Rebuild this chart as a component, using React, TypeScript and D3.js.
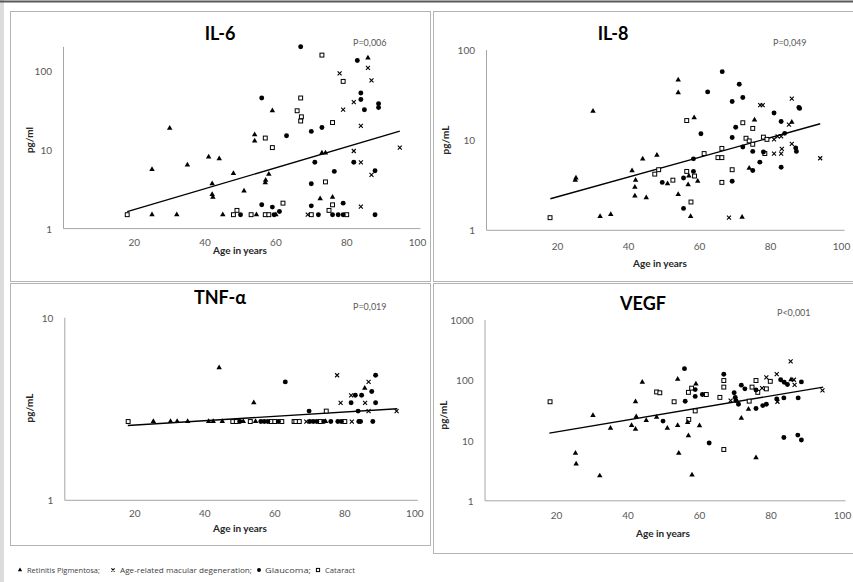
import React from 'react';
import * as d3 from 'd3';

type Pt = [number, number];

// ---------- IL-6 (age, pg/ml) ----------
const il6RP: Pt[] = [[25,5.6],[25,1.5],[30,18.7],[32,1.5],[35,6.4],[41,8.1],[44,7.7],[42,3.7],[42,2.7],[42.2,2.5],[45,1.5],[48,5.0],[51,3.0],[54,15.4],[54,12.9],[54.5,1.5],[58,4.9],[57,3.8],[57.1,4.1],[59,31],[60,1.5],[72.5,2.4],[76,2.5],[73,9.1],[74,9.1],[86,145]];
const il6AMD: Pt[] = [[78,92],[86,108],[87,75],[82,40],[79,32],[84,20],[95,10.6],[82,9.6],[84,6.9],[87,4.8],[84,1.9],[69,1.5]];
const il6GL: Pt[] = [[67,200],[83,134],[56,45],[84,52],[84,43],[85,32],[89,38],[89,34],[63,15],[70,17],[73,19],[71,6.9],[70,3.7],[76.5,5.3],[82,6.9],[88,5.4],[56,2.0],[59,1.87],[61,1.65],[70,1.94],[79,2.1],[50,1.5],[72,1.5],[76,1.5],[77.6,1.5],[79,1.5],[88,1.5],[59.5,1.5]];
const il6CAT: Pt[] = [[18,1.5],[73,157],[79,73],[67,45],[66,31],[67.2,26],[67,23],[76,22],[57,14],[59,10.6],[74,3.9],[62,2.1],[76,2.0],[49,1.7],[75,1.7],[48,1.5],[53,1.5],[57,1.5],[58,1.5],[70,1.5],[80,1.5]];
const il6Trend: Pt[] = [[18,1.64],[95,17.1]];

// ---------- IL-8 ----------
const il8RP: Pt[] = [[25,3.6],[25.2,3.8],[30,21],[32,1.43],[35,1.5],[41,4.6],[44,6.2],[42,3.6],[41.8,3.0],[41.8,2.4],[45,2.3],[48,6.8],[51,3.3],[54,46.5],[54,33.7],[54,2.5],[57,4.0],[56.8,3.2],[58.5,17.8],[57.5,1.43],[59.5,3.5],[75.5,16.8],[74,4.9],[72,1.4],[86,15.8]];
const il8AMD: Pt[] = [[68.3,1.38],[77.1,24.4],[77.8,24.4],[86,28.9],[85.2,14.9],[81,10.2],[82,11],[83,11],[86,9.1],[81,7.1],[83,7.1],[83.2,8.0],[94,6.3]];
const il8GL: Pt[] = [[66.4,57.5],[71.2,41.7],[69.2,26.8],[72.2,29.7],[62.3,34.3],[81,20],[83,16.1],[88,23],[88.2,22.5],[70.2,13.9],[60.4,11.8],[69.2,10.7],[84,11.9],[72.2,8.4],[87.1,8.2],[87.3,7.5],[75,7.5],[78,7.4],[77,5.7],[75,4.6],[83,5.0],[58.3,6.2],[58.3,4.5],[55.5,3.8],[49.5,3.4],[55.5,1.75],[69.2,3.5]];
const il8CAT: Pt[] = [[17.9,1.38],[47.4,4.2],[48.5,4.7],[52.5,3.6],[56.4,4.5],[58.6,4.0],[57.6,2.06],[56.4,16.5],[61.3,7.1],[65.2,6.4],[66.3,6.4],[66.3,8.1],[66.3,3.4],[69.2,4.7],[72.2,15.6],[75,13.5],[73.1,10.5],[74,9.8],[75,9.0],[78,10.8],[78.4,7.1],[79,10.2]];
const il8Trend: Pt[] = [[18,2.24],[94,15.2]];

// ---------- TNF-α ----------
const tnfRP: Pt[] = [[25.3,2.7],[30.2,2.7],[32.1,2.7],[35.1,2.7],[41.1,2.7],[42.4,2.7],[45,2.7],[51,2.7],[54.5,2.7],[74.5,2.7],[44.1,5.33],[54,3.42],[85.7,4.11]];
const tnfAMD: Pt[] = [[69,2.7],[82,2.7],[86.8,3.08],[94.8,3.08],[78.8,3.42],[85.8,3.42],[81.8,3.76],[86.8,4.45],[77.8,4.84]];
const tnfGL: Pt[] = [[50,2.7],[56,2.7],[57,2.7],[58,2.7],[61,2.7],[70,2.7],[71,2.7],[72,2.7],[74,2.7],[76,2.7],[78,2.7],[79,2.7],[84,2.7],[84.5,2.7],[88,2.7],[69.8,3.08],[83.8,3.08],[81.8,3.42],[88.8,3.42],[83,3.76],[84.8,3.76],[87.7,3.94],[63,4.45],[88.8,4.84]];
const tnfCAT: Pt[] = [[18.1,2.7],[48,2.7],[49,2.7],[53,2.7],[59,2.7],[60,2.7],[62,2.7],[65.5,2.7],[66,2.7],[67,2.7],[73,2.7],[80,2.7],[74.7,3.08]];
const tnfTrend: Pt[] = [[18,2.57],[95,3.17]];

// ---------- VEGF ----------
const vegfRP: Pt[] = [[25.3,6.2],[25.5,4.1],[30.2,26],[32.1,2.6],[35.1,16.1],[41,17.8],[42.1,15.5],[42.1,44],[42.3,25],[44,93],[45.1,21.6],[48,24.5],[51,16.1],[53.9,104],[53.9,17.8],[54.2,6.2],[56.7,20],[56.9,12.1],[57.9,2.7],[59,87],[60,17.7],[71.7,23.5],[73.7,33],[75.8,5.2],[85.6,102]];
const vegfAMD: Pt[] = [[85.5,206],[68.7,46],[81.6,126],[78.7,112],[77.5,74],[81.8,44],[86.4,102],[86.6,84],[94.4,68]];
const vegfGL: Pt[] = [[55.8,156],[66.8,126],[58.8,70],[58.8,54],[56,45],[60.8,58],[49.8,21],[62.7,9.1],[69.7,62],[70,52],[70.2,46],[70.9,40],[71.7,83],[72.7,72],[75.8,69],[75.8,34],[77.7,38],[78.7,40],[81.6,49],[82.7,102],[83.7,93],[84.6,85],[83.6,51],[88.5,94],[87.6,51],[83.6,11.2],[87.5,12.3],[88.5,10.2]];
const vegfCAT: Pt[] = [[18.2,44],[48,64],[48.9,62],[52.9,44],[56.9,63],[57.8,74],[61.9,58],[65.7,52],[66.8,99],[66.8,77],[58.8,31],[57,22.4],[66.8,7.1],[74.7,77],[75.8,99],[76.3,63],[78.7,72],[79.8,96],[73.9,45]];
const vegfTrend: Pt[] = [[18,13.3],[94.6,77]];

const xTicks = [20, 40, 60, 80, 100];
const legendLabels = ['Retinitis Pigmentosa;', 'Age-related macular degeneration;', 'Glaucoma;', 'Cataract'];

const FONT = "Lato, 'Open Sans', 'DejaVu Sans', sans-serif";
const LEGEND_FONT = "'Open Sans', 'DejaVu Sans', sans-serif";

interface PanelDef {
  title: string; pText: string; yLabel: string;
  rp: Pt[]; amd: Pt[]; gl: Pt[]; cat: Pt[]; trend: Pt[];
  yMax: number; yTicks: number[];
  xr: [number, number]; yr: [number, number];
  titlePos: [number, number]; pPos: [number, number];
  yLabPos: [number, number]; xLabPos: [number, number]; xTickDy: number;
}

const panels: PanelDef[] = [
  { title: 'IL-6', pText: 'P=0,006', yLabel: 'pg/ml', rp: il6RP, amd: il6AMD, gl: il6GL, cat: il6CAT, trend: il6Trend,
    yMax: 200, yTicks: [1, 10, 100], xr: [63.5, 417.5], yr: [228.6, 46.8],
    titlePos: [220, 33], pPos: [353, 42], yLabPos: [29, 140], xLabPos: [240, 250], xTickDy: 13.4 },
  { title: 'IL-8', pText: 'P=0,049', yLabel: 'pg/mL', rp: il8RP, amd: il8AMD, gl: il8GL, cat: il8CAT, trend: il8Trend,
    yMax: 100, yTicks: [1, 10, 100], xr: [486.5, 841.5], yr: [230.3, 50],
    titlePos: [613, 33], pPos: [773, 42], yLabPos: [445, 140], xLabPos: [660, 263], xTickDy: 16 },
  { title: 'TNF-α', pText: 'P=0,019', yLabel: 'pg/mL', rp: tnfRP, amd: tnfAMD, gl: tnfGL, cat: tnfCAT, trend: tnfTrend,
    yMax: 10, yTicks: [1, 10], xr: [64.8, 414.8], yr: [500.3, 317.7],
    titlePos: [220, 297], pPos: [353, 306], yLabPos: [29, 408], xLabPos: [240, 528], xTickDy: 12.7 },
  { title: 'VEGF', pText: 'P<0,001', yLabel: 'pg/mL', rp: vegfRP, amd: vegfAMD, gl: vegfGL, cat: vegfCAT, trend: vegfTrend,
    yMax: 1000, yTicks: [1, 10, 100, 1000], xr: [485, 842.5], yr: [500.8, 320],
    titlePos: [643, 303], pPos: [777, 312], yLabPos: [443, 415], xLabPos: [663, 533], xTickDy: 14.3 },
];

const triPath = d3.symbol().type(d3.symbolTriangle).size(13)() as string;
const dotPath = d3.symbol().type(d3.symbolCircle).size(19)() as string;

function Tri({ x, y, k = 1 }: { x: number; y: number; k?: number }) {
  return <path d={triPath} transform={`translate(${x},${y}) scale(${k})`} fill="#000" />;
}
function Dot({ x, y, k = 1 }: { x: number; y: number; k?: number }) {
  return <path d={dotPath} transform={`translate(${x},${y}) scale(${k})`} fill="#000" />;
}
function Sq({ x, y, s = 3.9 }: { x: number; y: number; s?: number }) {
  return <rect x={x - s / 2} y={y - s / 2} width={s} height={s} fill="#fff" stroke="#000" strokeWidth={1} />;
}
function Cross({ x, y, s = 2 }: { x: number; y: number; s?: number }) {
  return <path d={`M${x - s},${y - s}L${x + s},${y + s}M${x - s},${y + s}L${x + s},${y - s}`} stroke="#000" strokeWidth={1.1} fill="none" />;
}

function Panel({ p }: { p: PanelDef }) {
  const x = d3.scaleLinear().domain([0, 100]).range(p.xr);
  const y = d3.scaleLog().domain([1, p.yMax]).range(p.yr);
  const line = d3.line<Pt>().x(d => x(d[0])).y(d => y(d[1]));
  const axisColor = '#a6a6a6';
  const tickColor = '#595959';
  return (
    <g>
      <line x1={x(0)} x2={x(100) + 3} y1={y(1)} y2={y(1)} stroke={axisColor} strokeWidth={1} />
      <line x1={x(0)} x2={x(0)} y1={y(1)} y2={y(p.yMax)} stroke={axisColor} strokeWidth={1} />
      {p.yTicks.map(t => (
        <text key={t} x={x(0) - 11.5} y={y(t)} textAnchor="end" dominantBaseline="central"
          fontSize={10} fill={tickColor} fontFamily={FONT}>{t}</text>
      ))}
      {xTicks.map(t => (
        <text key={t} x={x(t)} y={y(1) + p.xTickDy} textAnchor="middle" dominantBaseline="central"
          fontSize={10} fill={tickColor} fontFamily={FONT}>{t}</text>
      ))}
      <text x={p.titlePos[0]} y={p.titlePos[1]} textAnchor="middle" dominantBaseline="central"
        fontSize={18} fontWeight="bold" fill="#000" fontFamily={FONT}>{p.title}</text>
      <text x={p.pPos[0]} y={p.pPos[1]} dominantBaseline="central" fontSize={9} fill="#595959" fontFamily={FONT}>{p.pText}</text>
      <text x={p.xLabPos[0]} y={p.xLabPos[1]} textAnchor="middle" dominantBaseline="central"
        fontSize={10} fontWeight="bold" fill="#262626" fontFamily={FONT}>Age in years</text>
      <text transform={`translate(${p.yLabPos[0]},${p.yLabPos[1]}) rotate(-90)`} textAnchor="middle" dominantBaseline="central"
        fontSize={10} fontWeight="bold" fill="#262626" fontFamily={FONT}>{p.yLabel}</text>
      <path d={line(p.trend) as string} stroke="#000" strokeWidth={1.4} fill="none" />
      {p.cat.map((d, i) => <Sq key={'c' + i} x={x(d[0])} y={y(d[1])} />)}
      {p.rp.map((d, i) => <Tri key={'r' + i} x={x(d[0])} y={y(d[1])} />)}
      {p.gl.map((d, i) => <Dot key={'g' + i} x={x(d[0])} y={y(d[1])} />)}
      {p.amd.map((d, i) => <Cross key={'a' + i} x={x(d[0])} y={y(d[1])} />)}
    </g>
  );
}

export default function App() {
  const border = '#b3b3b3';
  const ly = 570;
  return (
    <svg width={853} height={582} style={{ position: 'absolute', left: 0, top: 0, background: '#fff' }}>
      <rect x={0} y={0} width={853} height={582} fill="#fff" />
      <rect x={0} y={0} width={4} height={582} fill="#dcdcdc" />
      <line x1={0} x2={853} y1={1.5} y2={1.5} stroke="#595959" strokeWidth={2} />
      <rect x={10.5} y={11.5} width={420} height={270} fill="none" stroke={border} />
      <rect x={433.5} y={11.5} width={425} height={270} fill="none" stroke={border} />
      <rect x={10.5} y={283.5} width={420} height={262} fill="none" stroke={border} />
      <rect x={433.5} y={283.5} width={425} height={270} fill="none" stroke={border} />
      {panels.map(p => <Panel key={p.title} p={p} />)}
      <g fontFamily={LEGEND_FONT} fontSize={7.8} fill="#404040">
        <Tri x={20} y={ly} k={0.8} />
        <text x={27} y={ly} dominantBaseline="central" textLength={73} lengthAdjust="spacingAndGlyphs">{legendLabels[0]}</text>
        <Cross x={113} y={ly} s={1.6} />
        <text x={120} y={ly} dominantBaseline="central" textLength={132} lengthAdjust="spacingAndGlyphs">{legendLabels[1]}</text>
        <Dot x={259} y={ly} k={0.8} />
        <text x={265} y={ly} dominantBaseline="central" textLength={46} lengthAdjust="spacingAndGlyphs">{legendLabels[2]}</text>
        <Sq x={318} y={ly} s={3.2} />
        <text x={325} y={ly} dominantBaseline="central" textLength={30} lengthAdjust="spacingAndGlyphs">{legendLabels[3]}</text>
      </g>
    </svg>
  );
}
